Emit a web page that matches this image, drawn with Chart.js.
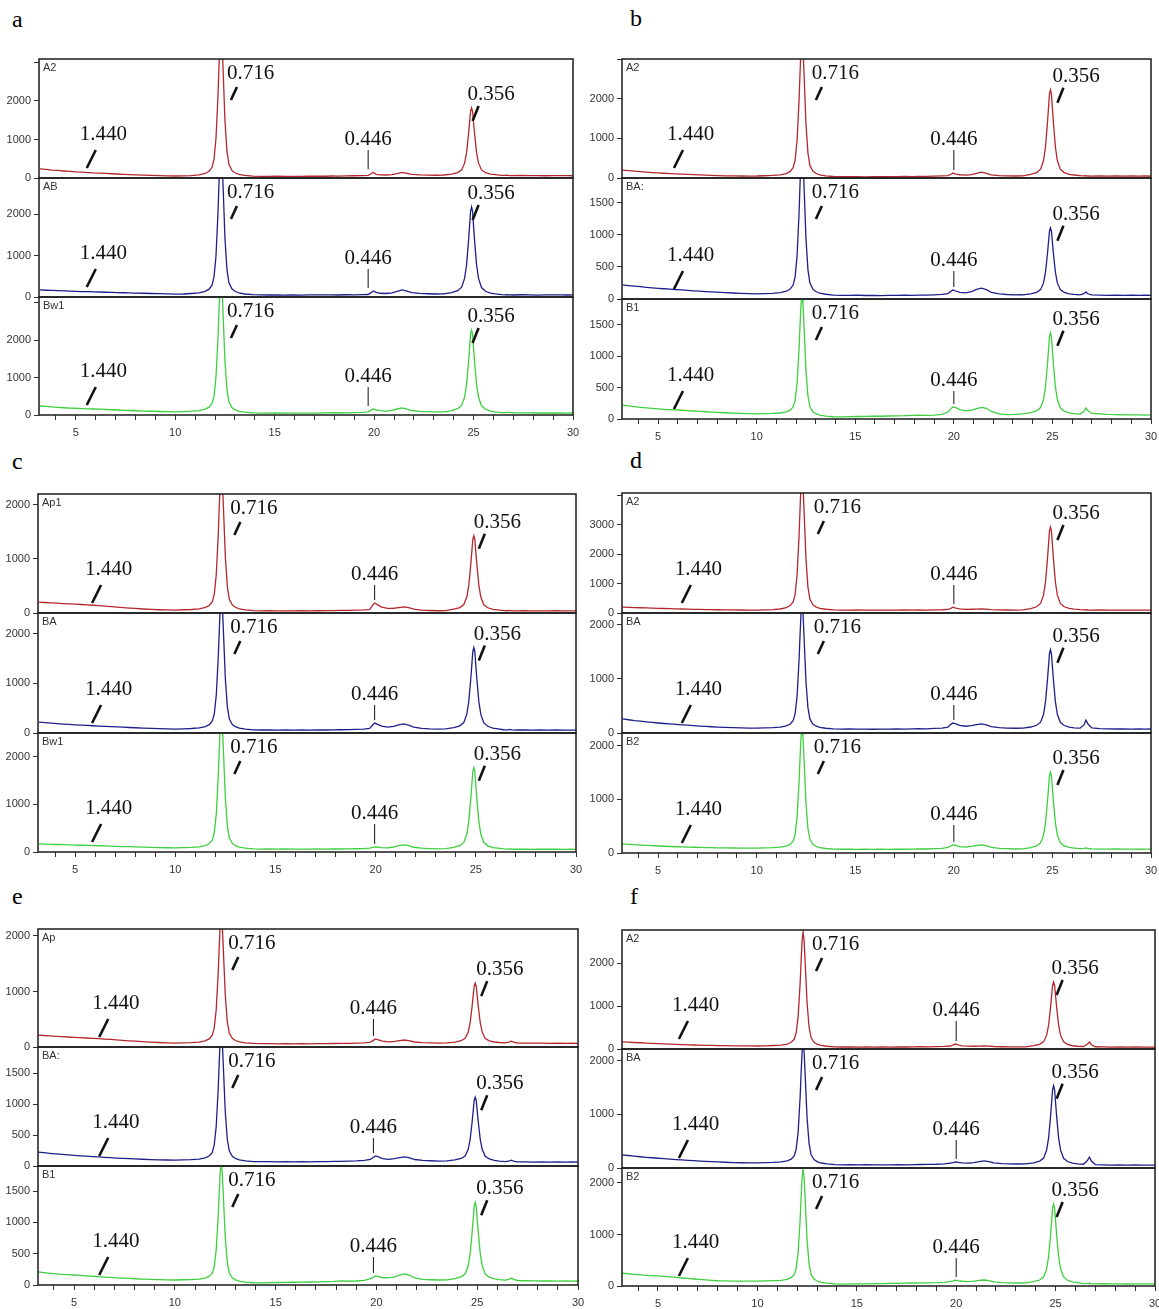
<!DOCTYPE html>
<html>
<head>
<meta charset="utf-8">
<title>XRD patterns</title>
<script src="https://cdn.jsdelivr.net/npm/chart.js@4.4.1/dist/chart.umd.min.js"></script>
<style>
  body { margin: 0; background: #fff; }
  #fig { position: relative; width: 1159px; height: 1309px; overflow: hidden; background: #fff; }
  #fig canvas { position: absolute; }
  .tag { position: absolute; font: 24px "Liberation Serif", "Times New Roman", serif; line-height: 30px; color: #000; }
</style>
</head>
<body>
<div id="fig">
  <div class="tag" style="left:12px;top:4px">a</div>
  <div class="tag" style="left:630px;top:3px">b</div>
  <div class="tag" style="left:12px;top:446px">c</div>
  <div class="tag" style="left:630px;top:445px">d</div>
  <div class="tag" style="left:12px;top:881px">e</div>
  <div class="tag" style="left:630px;top:881px">f</div>
</div>
<script>
// 2-theta grid (deg) shared by all traces, denser around the reflections
const twoTheta = [
  3.2, 3.5, 3.8, 4.1, 4.4, 4.7, 5.0, 5.3, 5.6, 5.9, 6.2, 6.5, 6.8, 7.1, 7.4, 7.7, 8.0, 8.4, 8.8, 9.2, 9.6, 10.0,
  10.4, 10.8, 11.2, 11.5, 11.7, 11.85, 11.95, 12.05, 12.15, 12.2, 12.25, 12.3, 12.35, 12.4, 12.5, 12.6, 12.7, 12.85, 13.0, 13.2, 13.5,
  13.9, 14.3, 14.7, 15.1, 15.5, 15.9, 16.3, 16.7, 17.1, 17.5, 17.9, 18.2, 18.6, 19.0, 19.4, 19.7,
  19.85, 19.95, 20.1, 20.3, 20.6, 20.9, 21.15, 21.4, 21.65, 21.9, 22.3, 22.7, 23.1, 23.5,
  23.9, 24.2, 24.4, 24.55, 24.65, 24.75, 24.85, 24.9, 24.95, 25.05, 25.15, 25.25, 25.4, 25.6, 25.85, 26.1,
  26.4, 26.6, 26.7, 26.8, 27.0, 27.4, 27.8, 28.2, 28.6, 29.0, 29.4, 29.7, 30.0
];

// counts, panel a
const aA2 = [
  235,222,205,196,182,170,158,150,142,133,128,118,110,104,96,88,82,74,66,62,56,52,
  55,60,80,118,175,278,487,1038,2140,2900,3584,3850,3584,2900,1494,696,354,197,136,94,68,
  50,44,42,46,40,44,42,46,48,45,52,50,55,58,62,68,
  110,150,95,80,78,90,115,145,118,92,80,76,72,78,
  101,140,210,385,665,1155,1732,1820,1732,1155,665,385,210,138,100,85,
  70,66,72,64,62,66,60,64,58,62,60,64,58
];
const aAB = [
  170,163,158,152,146,141,136,132,128,124,120,115,111,107,103,99,95,90,84,80,74,70,
  72,84,99,135,189,286,484,996,2040,2760,3408,3660,3400,2750,1423,667,343,196,138,97,72,
  55,50,48,52,47,50,46,52,49,53,50,48,54,52,56,60,
  105,145,110,90,85,100,135,170,140,105,85,78,72,75,
  108,154,238,448,784,1372,2065,2170,2065,1372,784,448,228,139,94,75,
  58,52,56,50,48,54,50,47,52,49,53,48,50
];
const aBw1 = [
  240,228,215,204,194,186,180,172,165,160,155,148,140,134,126,120,113,106,100,94,90,85,
  92,102,119,155,209,306,504,1016,2060,2780,3430,3680,3420,2770,1433,672,346,199,141,99,74,
  56,52,50,54,49,52,48,51,50,55,60,65,58,62,70,85,
  130,160,140,115,105,125,160,190,160,120,95,88,82,85,
  119,168,255,474,825,1438,2160,2270,2160,1438,825,474,245,153,106,86,
  66,64,72,68,60,58,56,54,57,53,55,52,54
];

// panel b
const bA2 = [
  200,186,172,160,148,138,128,120,112,104,98,90,84,78,72,66,60,56,52,50,48,50,
  57,64,78,113,166,260,453,955,1970,2670,3300,3545,3290,2660,1370,635,318,176,120,81,56,
  38,34,32,36,30,34,31,35,33,38,36,42,40,45,52,60,
  95,125,100,82,75,85,120,150,118,80,60,55,50,52,
  89,137,224,442,791,1402,2121,2230,2121,1402,791,442,224,137,94,76,
  58,52,60,50,48,52,46,50,47,52,48,50,47
];
const bBA = [
  220,210,200,192,183,175,167,160,153,147,141,134,128,122,116,111,106,100,94,89,84,80,
  85,89,98,121,156,218,345,673,1340,1800,2214,2375,2205,1790,944,459,249,154,117,90,74,
  62,58,56,60,55,58,54,58,56,60,58,62,60,66,72,85,
  120,140,125,105,95,115,150,170,145,105,80,70,64,66,
  81,104,146,251,419,713,1060,1112,1060,713,419,251,146,102,81,73,
  66,85,110,82,64,60,58,62,57,60,56,59,57
];
const bB1 = [
  220,208,196,186,176,168,160,154,149,144,139,133,127,121,115,110,105,99,93,88,84,80,
  84,88,95,112,141,190,295,564,1115,1490,1827,1960,1825,1480,772,368,194,116,84,61,46,
  36,34,38,40,42,45,44,48,50,52,58,62,56,60,72,110,
  165,190,180,150,130,140,165,185,170,120,80,68,72,80,
  101,130,181,310,517,878,1304,1368,1304,878,517,310,178,124,96,85,
  78,120,175,130,88,80,72,68,66,64,66,63,65
];

// panel c
const cAp1 = [
  200,194,188,181,175,170,165,157,150,143,135,127,118,110,101,92,84,74,66,60,57,55,
  60,65,76,102,141,211,354,726,1480,2000,2468,2650,2460,1990,1036,488,253,148,106,76,58,
  44,40,42,38,41,39,43,40,42,45,44,48,47,52,56,62,
  140,185,150,110,85,88,100,112,98,70,52,46,42,44,
  70,100,156,294,516,904,1361,1430,1361,904,516,294,153,97,68,57,
  44,42,48,40,38,42,39,41,38,42,40,39,41
];
const cBA = [
  220,210,200,190,181,173,165,158,152,146,140,134,128,122,117,111,106,100,94,89,84,80,
  85,91,102,129,169,242,391,777,1560,2100,2586,2775,2580,2090,1096,527,282,172,129,97,78,
  64,60,62,58,61,57,60,58,62,60,64,66,70,74,80,92,
  160,200,175,140,120,135,165,182,160,120,95,85,80,82,
  108,144,210,374,637,1098,1641,1723,1641,1098,637,374,204,136,99,84,
  66,64,72,63,60,62,58,61,57,60,58,56,58
];
const cBw1 = [
  170,166,162,158,154,150,146,142,138,135,131,127,123,119,115,111,107,102,97,93,89,85,
  91,96,107,135,177,253,407,808,1620,2180,2684,2880,2680,2170,1139,548,294,180,133,101,82,
  66,62,64,60,63,59,62,60,63,61,65,63,66,68,72,80,
  95,108,100,90,88,105,135,150,132,100,80,72,66,70,
  96,133,201,372,645,1122,1685,1770,1685,1122,645,372,198,130,94,80,
  64,62,66,60,58,61,57,60,58,61,57,59,57
];

// panel d
const dA2 = [
  200,193,186,179,172,166,160,154,148,142,136,131,126,122,118,114,111,108,105,103,101,100,
  109,118,137,183,252,376,629,1296,2630,3550,4378,4700,4378,3550,1848,882,468,284,210,160,128,
  104,100,98,102,97,100,96,101,98,102,99,103,100,105,110,120,
  160,200,170,140,125,128,132,138,130,115,106,102,100,104,
  151,213,326,609,1062,1855,2789,2930,2789,1855,1062,609,326,213,157,134,
  112,104,110,102,100,103,98,101,97,100,98,101,99
];
const dBA = [
  260,245,230,218,206,195,185,176,168,160,152,144,136,129,122,116,110,104,99,95,92,90,
  95,99,108,131,166,228,355,683,1350,1810,2224,2385,2220,1800,954,469,260,167,130,104,88,
  76,72,74,70,73,69,72,70,74,72,76,80,78,84,92,110,
  160,185,170,140,125,135,155,168,150,118,98,92,88,92,
  111,143,201,347,580,987,1467,1540,1467,987,580,347,198,138,107,95,
  90,150,240,165,95,80,76,74,77,73,75,72,74
];
const dB2 = [
  170,162,155,148,142,136,131,126,121,117,113,110,107,104,101,99,97,95,93,92,91,90,
  95,99,108,129,162,221,345,669,1322,1770,2175,2330,2170,1765,933,459,255,164,126,101,84,
  72,70,72,68,71,67,70,68,72,70,73,76,75,80,88,105,
  130,150,140,118,108,122,140,152,138,105,85,80,75,78,
  101,132,190,333,563,965,1438,1510,1438,965,563,333,190,132,104,92,
  80,86,95,84,76,74,72,75,71,74,70,73,71
];

// panel e
const eAp = [
  215,207,200,193,186,180,174,168,162,156,150,143,136,128,120,112,104,96,88,81,75,70,
  75,79,88,111,146,208,335,666,1333,1793,2207,2370,2205,1790,940,456,248,155,117,92,76,
  64,60,62,58,61,57,60,58,62,60,63,66,65,70,76,88,
  120,145,128,105,92,100,115,126,112,90,78,74,70,73,
  89,113,156,264,437,740,1096,1150,1096,740,437,264,154,111,90,81,
  74,90,110,86,72,70,68,71,67,70,66,69,67
];
const eBA = [
  225,215,205,196,187,179,172,165,158,152,146,140,134,128,123,118,114,109,104,100,97,95,
  99,103,112,130,161,216,332,634,1243,1661,2039,2185,2035,1655,878,435,244,158,122,99,83,
  72,70,72,68,71,67,70,68,72,70,74,76,78,82,90,105,
  140,162,148,120,108,118,135,146,132,105,90,85,80,83,
  99,121,162,265,430,719,1059,1110,1059,719,430,265,157,113,91,80,
  72,82,95,80,68,66,64,67,63,66,62,65,63
];
const eB1 = [
  210,198,187,178,170,165,160,153,146,140,133,127,121,115,110,105,100,95,91,87,83,80,
  84,87,93,110,138,186,289,556,1099,1468,1802,1930,1800,1460,761,363,192,115,83,61,47,
  36,35,38,40,42,44,46,48,50,54,58,66,60,64,75,100,
  125,145,135,120,115,130,158,176,155,115,90,84,80,82,
  102,130,179,303,502,849,1258,1320,1258,849,502,303,175,124,97,85,
  78,95,112,90,72,68,66,64,67,63,65,62,64
];

// panel f
const fA2 = [
  165,158,151,145,139,133,127,121,115,109,103,97,93,89,86,83,80,77,75,73,71,70,
  75,81,91,116,156,226,372,754,1525,2055,2534,2720,2530,2050,1066,506,265,156,114,83,64,
  50,47,49,45,48,44,47,45,49,47,50,52,50,55,60,70,
  95,115,95,75,65,64,68,72,66,58,52,50,48,51,
  77,110,171,322,563,986,1485,1560,1485,986,563,322,169,108,76,64,
  58,110,160,100,52,48,45,47,44,46,43,45,44
];
const fBA = [
  245,233,221,210,200,191,182,174,166,158,150,143,136,130,124,118,113,107,102,98,96,95,
  100,104,113,133,166,225,349,670,1323,1770,2175,2330,2170,1765,930,455,250,158,120,93,76,
  62,60,62,58,61,57,60,58,62,60,63,65,66,70,78,92,
  100,112,105,95,90,102,120,132,118,95,82,78,75,78,
  96,129,187,334,568,978,1462,1535,1462,978,568,334,182,121,89,76,
  70,140,205,130,64,58,55,57,54,56,53,55,54
];
const fB2 = [
  250,238,226,216,206,200,195,186,176,166,155,146,136,127,118,110,102,98,96,95,95,95,
  100,104,111,130,161,218,337,652,1285,1720,2111,2270,2100,1700,891,424,224,133,97,71,54,
  40,38,41,40,43,45,47,50,52,55,58,62,60,64,72,88,
  100,115,104,92,86,95,108,116,104,82,66,62,58,61,
  83,116,178,331,577,1007,1513,1590,1513,1007,577,331,175,111,79,64,
  48,50,56,46,42,44,40,43,39,42,40,41,40
];

const traces = [
  [aA2, aAB, aBw1], [bA2, bBA, bB1], [cAp1, cBA, cBw1],
  [dA2, dBA, dB2], [eAp, eBA, eB1], [fA2, fBA, fB2]
];
const sampleNames = [
  ['A2', 'AB', 'Bw1'], ['A2', 'BA:', 'B1'], ['Ap1', 'BA', 'Bw1'],
  ['A2', 'BA', 'B2'], ['Ap', 'BA:', 'B1'], ['A2', 'BA', 'B2']
];
// y axis range and tick step for each trace
const yMax = [
  [3090, 2870, 3150], [3010, 1890, 1905], [2200, 2420, 2500],
  [4090, 2220, 2240], [2125, 1920, 1900], [2770, 2220, 2290]
];
const yStep = [
  [1000, 1000, 1000], [1000, 500, 500], [1000, 1000, 1000],
  [1000, 1000, 1000], [1000, 500, 500], [1000, 1000, 1000]
];
const xLabelEvery = 5;
// d-spacings (nm) written on the traces, and the 2-theta each label sits at
const dSpacings = ['1.440', '0.716', '0.446', '0.356'];
const labelAt = [
  [5.2, 12.6, 19.7, 24.7], [5.45, 12.8, 20.0, 25.0], [5.5, 12.75, 19.95, 24.9],
  [5.85, 12.9, 20.0, 25.0], [5.9, 12.65, 19.85, 24.95], [5.7, 12.75, 20.0, 24.8]
];
const lineColors = ['#b3282d', '#1f1f8a', '#3fcf3f'];

// pixel frame of each panel: plot left/right, top of each strip, bottom of last strip
const frames = [
  { left: 39, right: 573, tops: [59, 178, 297], bottom: 415, xMin: 3.15 },
  { left: 622, right: 1151, tops: [59, 178, 299], bottom: 419, xMin: 3.17 },
  { left: 38, right: 576, tops: [494, 613, 733], bottom: 852, xMin: 3.15 },
  { left: 622, right: 1151, tops: [493, 613, 733], bottom: 853, xMin: 3.17 },
  { left: 38, right: 578, tops: [929, 1047, 1166], bottom: 1285, xMin: 3.21 },
  { left: 622, right: 1155, tops: [930, 1049, 1168], bottom: 1286, xMin: 3.19 }
];

const AXIS_W = 40, PAD_R = 14, PAD_V = 10, XAXIS_H = 28;
const tickFont = { family: '"Liberation Sans", Arial, sans-serif', size: 11 };

function slash(ctx, x0, y0, x1, y1) {
  ctx.lineWidth = 2.6;
  ctx.beginPath();
  ctx.moveTo(x0, y0);
  ctx.lineTo(x1, y1);
  ctx.stroke();
}

function nearest(pts, xv) {
  let best = pts[0];
  pts.forEach(p => { if (Math.abs(p.x - xv) < Math.abs(best.x - xv)) best = p; });
  return best;
}

// frame, sample name and d-spacing labels for one strip
const peakMarks = {
  id: 'peakMarks',
  afterDatasetsDraw(chart, args, o) {
    const { ctx, chartArea: ca, scales: { x, y } } = chart;
    const pts = chart.data.datasets[0].data;
    const zero = y.getPixelForValue(0);
    ctx.save();

    ctx.strokeStyle = '#1b1b1b';
    ctx.lineWidth = 1.5;
    ctx.strokeRect(ca.left, ca.top, ca.right - ca.left, ca.bottom - ca.top);

    ctx.fillStyle = '#333';
    ctx.font = '11px "Liberation Sans", Arial, sans-serif';
    ctx.textBaseline = 'top';
    ctx.fillText(o.name, ca.left + 4, ca.top + 3);

    ctx.font = '21px "Liberation Serif", "Times New Roman", serif';
    ctx.fillStyle = '#111';
    ctx.strokeStyle = '#111';
    ctx.textBaseline = 'alphabetic';

    // low angle shoulder
    let lx = x.getPixelForValue(o.at[0]);
    let base = zero - 38;
    ctx.fillText(dSpacings[0], lx, base);
    slash(ctx, lx + 7, base + 28, lx + 16, base + 10);

    // main basal reflection, label hangs under the frame top
    lx = x.getPixelForValue(o.at[1]);
    base = ca.top + 20;
    ctx.fillText(dSpacings[1], lx, base);
    slash(ctx, lx + 4, base + 21, lx + 10, base + 8);

    // small reflection with a thin leader line
    const p446 = nearest(pts, 19.95);
    lx = x.getPixelForValue(o.at[2]);
    base = zero - 33;
    ctx.textAlign = 'center';
    ctx.fillText(dSpacings[2], lx, base);
    ctx.textAlign = 'left';
    ctx.lineWidth = 1;
    ctx.beginPath();
    ctx.moveTo(lx, base + 5);
    ctx.lineTo(lx, y.getPixelForValue(p446.y) - 3);
    ctx.stroke();

    // second order peak, label floats above its top
    const top356 = Math.max(...pts.filter(p => p.x > 24 && p.x < 26).map(p => p.y));
    lx = x.getPixelForValue(o.at[3]);
    base = y.getPixelForValue(top356) - 8;
    ctx.fillText(dSpacings[3], lx, base);
    slash(ctx, lx + 5, base + 21, lx + 11, base + 6);

    ctx.restore();
  }
};

function addCanvas(left, top, w, h) {
  const c = document.createElement('canvas');
  c.width = w;
  c.height = h;
  c.style.left = left + 'px';
  c.style.top = top + 'px';
  c.style.width = w + 'px';
  c.style.height = h + 'px';
  document.getElementById('fig').appendChild(c);
  return c;
}

function drawStrip(p, k) {
  const fr = frames[p];
  const last = k === 2;
  const top = fr.tops[k];
  const bot = last ? fr.bottom : fr.tops[k + 1];
  const w = fr.right - fr.left + AXIS_W + PAD_R;
  const h = bot - top + PAD_V + (last ? XAXIS_H : PAD_V);
  const canvas = addCanvas(fr.left - AXIS_W, top - PAD_V, w, h);
  const ys = traces[p][k];
  const pts = twoTheta.map((t, i) => ({ x: t, y: ys[i] }));
  const max = yMax[p][k];
  const step = yStep[p][k];

  new Chart(canvas, {
    type: 'line',
    data: {
      datasets: [{
        data: pts,
        borderColor: lineColors[k],
        borderWidth: 1.3,
        pointRadius: 0,
        tension: 0,
        fill: false
      }]
    },
    options: {
      responsive: false,
      animation: false,
      devicePixelRatio: 1,
      layout: { autoPadding: false, padding: { left: 0, right: PAD_R, top: PAD_V, bottom: last ? 0 : PAD_V } },
      plugins: {
        legend: { display: false },
        tooltip: { enabled: false },
        peakMarks: { name: sampleNames[p][k], at: labelAt[p] }
      },
      scales: {
        x: {
          type: 'linear',
          display: last,
          min: fr.xMin,
          max: 30,
          afterFit: s => { if (last) s.height = XAXIS_H; },
          border: { display: false },
          grid: { drawOnChartArea: false, tickLength: 5, color: '#333' },
          ticks: {
            stepSize: 1,
            includeBounds: false,
            autoSkip: false,
            maxRotation: 0,
            padding: 6,
            color: '#333',
            font: tickFont,
            callback: v => (v % xLabelEvery === 0 ? v : '')
          }
        },
        y: {
          min: 0,
          max: max,
          afterFit: s => { s.width = AXIS_W; },
          // fixed steps from zero; the max itself is not a tick
          afterBuildTicks: s => {
            const t = [];
            for (let v = 0; v <= max; v += step) t.push({ value: v });
            s.ticks = t;
          },
          border: { display: false },
          grid: { drawOnChartArea: false, tickLength: 5, color: '#333' },
          ticks: {
            padding: 3,
            color: '#333',
            font: tickFont,
            // the top-most tick loses its label when it crowds the frame
            callback: v => ((max - v) / max < 0.05 ? '' : v)
          }
        }
      }
    },
    plugins: [peakMarks]
  });
}

for (let p = 0; p < frames.length; p++) {
  for (let k = 0; k < 3; k++) drawStrip(p, k);
}
</script>
</body>
</html>
